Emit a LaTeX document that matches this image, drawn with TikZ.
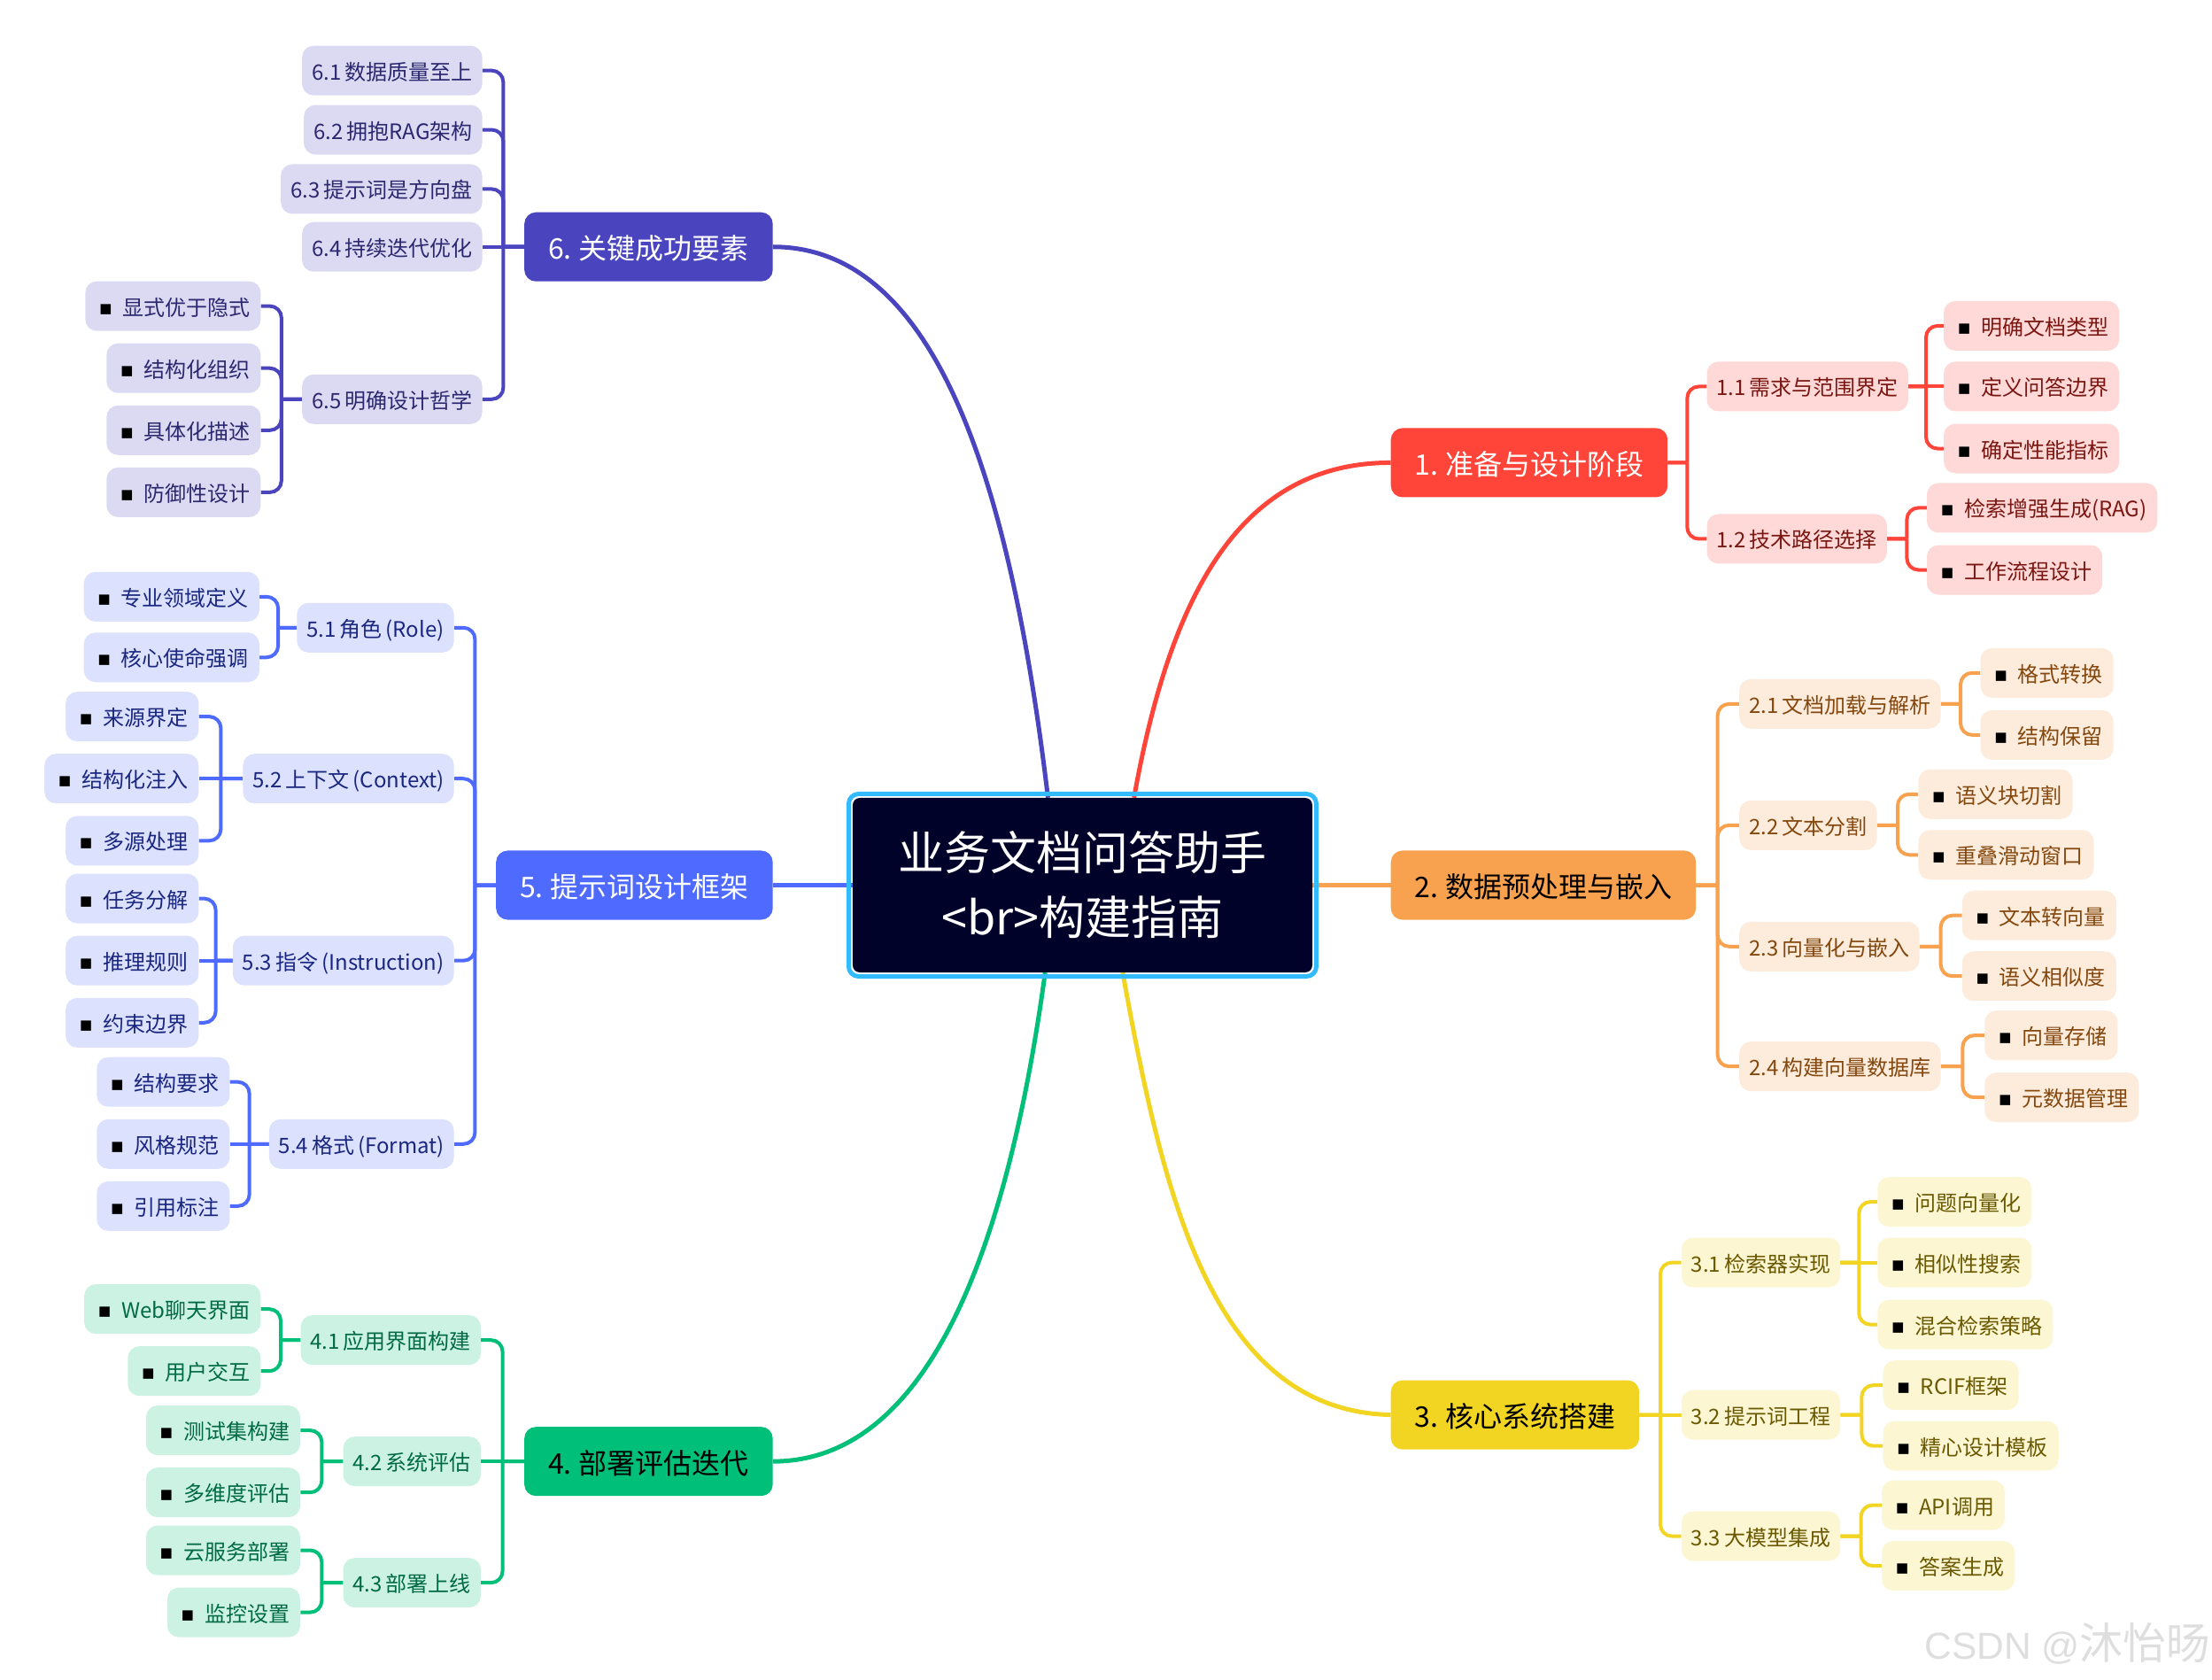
\documentclass[tikz,border=0pt]{standalone}
\usepackage{fontspec}
\usepackage{xcolor}
\setmainfont{Noto Sans CJK SC}
\newfontfamily\symfont{DejaVu Sans}
\newfontfamily\markfont{Liberation Sans}
\usetikzlibrary{calc,backgrounds}
\definecolor{rootfill}{HTML}{000229}
\definecolor{rootline}{HTML}{33BBFF}
\definecolor{redmain}{HTML}{FF4439}
\definecolor{redsoft}{HTML}{FFD9D7}
\definecolor{reddeep}{HTML}{7A1712}
\definecolor{ormain}{HTML}{F8A14E}
\definecolor{orsoft}{HTML}{FDECDC}
\definecolor{ordeep}{HTML}{84480F}
\definecolor{yemain}{HTML}{F2D422}
\definecolor{yesoft}{HTML}{FCF6D3}
\definecolor{yedeep}{HTML}{6B5900}
\definecolor{grmain}{HTML}{00BF78}
\definecolor{grsoft}{HTML}{CCF2E4}
\definecolor{grdeep}{HTML}{006B43}
\definecolor{blmain}{HTML}{4F6BFF}
\definecolor{blsoft}{HTML}{DCE1FD}
\definecolor{bldeep}{HTML}{1A2780}
\definecolor{inmain}{HTML}{4A45BF}
\definecolor{insoft}{HTML}{DBDAF2}
\definecolor{indeep}{HTML}{2C2870}
\newcommand{\tightsp}{\spaceskip=.17em\relax}
\newcommand{\bul}{\hspace{4pt}\raisebox{3pt}{\symfont\fontsize{15pt}{15pt}\selectfont\textcolor{black}{■}}\hspace{12pt}}
% parent to child, child on the right or on the left
\newcommand{\lnkr}[2]{\draw[link] (#1.east) -- ($(#1.east)!.5!(#1.east -| #2.west)$) coordinate (spine) (spine) |- (#2.west);}
\newcommand{\lnkl}[2]{\draw[link] (#1.west) -- ($(#1.west)!.5!(#1.west -| #2.east)$) coordinate (spine) (spine) |- (#2.east);}
% child level with its parent
\newcommand{\strr}[2]{\draw[link] (#1.east) -- (#1.east -| #2.west);}
\newcommand{\strl}[2]{\draw[link] (#1.west) -- (#1.west -| #2.east);}
\tikzset{
	lvlone/.style={rounded corners=13pt, minimum height=78pt, inner xsep=27pt, inner ysep=0pt, text height=28pt, text depth=0pt, font=\fontsize{32pt}{38pt}\selectfont\tightsp},
	lvltwo/.style={rounded corners=13pt, minimum height=56pt, inner xsep=11pt, inner ysep=0pt, text height=21pt, text depth=0pt, font=\fontsize{24pt}{28pt}\selectfont\tightsp},
	lvlthree/.style={lvltwo, inner xsep=12pt},
	rootlink/.style={line width=5pt},
	link/.style={line width=4pt, rounded corners=13pt}
}

\begin{document}
\begin{tikzpicture}[x=1.5928pt, y=-1.5928pt]
	\useasboundingbox (0, 0) rectangle (1568.3, 1190.4);

	\node[fill=rootfill, text=white, rounded corners=8pt, minimum width=519pt, minimum height=197pt, align=center, font=\fontsize{52pt}{73pt}\selectfont] (root) at (767.5, 627.5) {业务文档问答助手\\<br>构建指南};
	\node[draw=rootline, line width=5pt, rounded corners=11pt, minimum width=528pt, minimum height=206pt] (ring) at (767.5, 627.5) {};

	% 1
	\begin{scope}[every node/.style={fill=redsoft, text=reddeep}, link/.append style={draw=redmain}]
		\node[lvlone, anchor=west, fill=redmain, text=white] (a) at (986, 328) {1. 准备与设计阶段};
		\node[lvltwo, anchor=west] (a1) at (1210, 274) {1.1 需求与范围界定};
		\node[lvltwo, anchor=west] (a2) at (1210, 382) {1.2 技术路径选择};
		\node[lvlthree, anchor=west] (a11) at (1378, 231) {\bul 明确文档类型};
		\node[lvlthree, anchor=west] (a12) at (1378, 274) {\bul 定义问答边界};
		\node[lvlthree, anchor=west] (a13) at (1378, 318) {\bul 确定性能指标};
		\node[lvlthree, anchor=west] (a21) at (1366, 360) {\bul 检索增强生成(RAG)};
		\node[lvlthree, anchor=west] (a22) at (1366, 404) {\bul 工作流程设计};
		\begin{scope}[on background layer]
			\draw[rootlink, redmain] (a.west) .. controls (880, 328) and (830, 420) .. ($(root.north)+(36.5, 0)$);
			\foreach \c in {a1, a2} {\lnkr{a}{\c}}
			\foreach \c in {a11, a13} {\lnkr{a1}{\c}}
			\strr{a1}{a12}
			\foreach \c in {a21, a22} {\lnkr{a2}{\c}}
		\end{scope}
	\end{scope}

	% 2
	\begin{scope}[every node/.style={fill=orsoft, text=ordeep}, link/.append style={draw=ormain}]
		\node[lvlone, anchor=west, fill=ormain, text=black] (b) at (986, 627.5) {2. 数据预处理与嵌入};
		\node[lvltwo, anchor=west] (b1) at (1233, 499) {2.1 文档加载与解析};
		\node[lvltwo, anchor=west] (b2) at (1233, 585) {2.2 文本分割};
		\node[lvltwo, anchor=west] (b3) at (1233, 671) {2.3 向量化与嵌入};
		\node[lvltwo, anchor=west] (b4) at (1233, 756) {2.4 构建向量数据库};
		\node[lvlthree, anchor=west] (b11) at (1404, 477) {\bul 格式转换};
		\node[lvlthree, anchor=west] (b12) at (1404, 521) {\bul 结构保留};
		\node[lvlthree, anchor=west] (b21) at (1360, 563) {\bul 语义块切割};
		\node[lvlthree, anchor=west] (b22) at (1360, 606) {\bul 重叠滑动窗口};
		\node[lvlthree, anchor=west] (b31) at (1391, 649) {\bul 文本转向量};
		\node[lvlthree, anchor=west] (b32) at (1391, 692) {\bul 语义相似度};
		\node[lvlthree, anchor=west] (b41) at (1407, 734) {\bul 向量存储};
		\node[lvlthree, anchor=west] (b42) at (1407, 778) {\bul 元数据管理};
		\begin{scope}[on background layer]
			\draw[rootlink, ormain] (root.east) -- (b.west);
			\foreach \c in {b1, b2, b3, b4} {\lnkr{b}{\c}}
			\foreach \c in {b11, b12} {\lnkr{b1}{\c}}
			\foreach \c in {b21, b22} {\lnkr{b2}{\c}}
			\foreach \c in {b31, b32} {\lnkr{b3}{\c}}
			\foreach \c in {b41, b42} {\lnkr{b4}{\c}}
		\end{scope}
	\end{scope}

	% 3
	\begin{scope}[every node/.style={fill=yesoft, text=yedeep}, link/.append style={draw=yemain}]
		\node[lvlone, anchor=west, fill=yemain, text=black] (c) at (986, 1003) {3. 核心系统搭建};
		\node[lvltwo, anchor=west] (c1) at (1192, 895) {3.1 检索器实现};
		\node[lvltwo, anchor=west] (c2) at (1192, 1003) {3.2 提示词工程};
		\node[lvltwo, anchor=west] (c3) at (1192, 1089) {3.3 大模型集成};
		\node[lvlthree, anchor=west] (c11) at (1331, 852) {\bul 问题向量化};
		\node[lvlthree, anchor=west] (c12) at (1331, 895) {\bul 相似性搜索};
		\node[lvlthree, anchor=west] (c13) at (1331, 939) {\bul 混合检索策略};
		\node[lvlthree, anchor=west] (c21) at (1335, 982) {\bul RCIF框架};
		\node[lvlthree, anchor=west] (c22) at (1335, 1025) {\bul 精心设计模板};
		\node[lvlthree, anchor=west] (c31) at (1334, 1067) {\bul API调用};
		\node[lvlthree, anchor=west] (c32) at (1334, 1110) {\bul 答案生成};
		\begin{scope}[on background layer]
			\draw[rootlink, yemain] (c.west) .. controls (860, 1000) and (825, 850) .. ($(root.south)+(28.5, 0)$);
			\foreach \c in {c1, c3} {\lnkr{c}{\c}}
			\strr{c}{c2}
			\foreach \c in {c11, c13} {\lnkr{c1}{\c}}
			\strr{c1}{c12}
			\foreach \c in {c21, c22} {\lnkr{c2}{\c}}
			\foreach \c in {c31, c32} {\lnkr{c3}{\c}}
		\end{scope}
	\end{scope}

	% 4
	\begin{scope}[every node/.style={fill=grsoft, text=grdeep}, link/.append style={draw=grmain}]
		\node[lvlone, anchor=east, fill=grmain, text=black] (d) at (548, 1036) {4. 部署评估迭代};
		\node[lvltwo, anchor=east] (d1) at (341, 950) {4.1 应用界面构建};
		\node[lvltwo, anchor=east] (d2) at (341, 1036) {4.2 系统评估};
		\node[lvltwo, anchor=east] (d3) at (341, 1122) {4.3 部署上线};
		\node[lvlthree, anchor=east] (d11) at (185, 928) {\bul Web聊天界面};
		\node[lvlthree, anchor=east] (d12) at (185, 972) {\bul 用户交互};
		\node[lvlthree, anchor=east] (d21) at (213, 1014) {\bul 测试集构建};
		\node[lvlthree, anchor=east] (d22) at (213, 1058) {\bul 多维度评估};
		\node[lvlthree, anchor=east] (d31) at (213, 1099) {\bul 云服务部署};
		\node[lvlthree, anchor=east] (d32) at (213, 1143) {\bul 监控设置};
		\begin{scope}[on background layer]
			\draw[rootlink, grmain] (d.east) .. controls (660, 1036) and (715, 880) .. ($(root.south)+(-26.5, 0)$);
			\foreach \c in {d1, d3} {\lnkl{d}{\c}}
			\strl{d}{d2}
			\foreach \c in {d11, d12} {\lnkl{d1}{\c}}
			\foreach \c in {d21, d22} {\lnkl{d2}{\c}}
			\foreach \c in {d31, d32} {\lnkl{d3}{\c}}
		\end{scope}
	\end{scope}

	% 5
	\begin{scope}[every node/.style={fill=blsoft, text=bldeep}, link/.append style={draw=blmain}]
		\node[lvlone, anchor=east, fill=blmain, text=white] (e) at (548, 627.5) {5. 提示词设计框架};
		\node[lvltwo, anchor=east] (e1) at (322, 445) {5.1 角色 (Role)};
		\node[lvltwo, anchor=east] (e2) at (322, 552) {5.2 上下文 (Context)};
		\node[lvltwo, anchor=east] (e3) at (322, 681) {5.3 指令 (Instruction)};
		\node[lvltwo, anchor=east] (e4) at (322, 811) {5.4 格式 (Format)};
		\node[lvlthree, anchor=east] (e11) at (184, 423) {\bul 专业领域定义};
		\node[lvlthree, anchor=east] (e12) at (184, 466) {\bul 核心使命强调};
		\node[lvlthree, anchor=east] (e21) at (141, 508) {\bul 来源界定};
		\node[lvlthree, anchor=east] (e22) at (141, 552) {\bul 结构化注入};
		\node[lvlthree, anchor=east] (e23) at (141, 596) {\bul 多源处理};
		\node[lvlthree, anchor=east] (e31) at (141, 637) {\bul 任务分解};
		\node[lvlthree, anchor=east] (e32) at (141, 681) {\bul 推理规则};
		\node[lvlthree, anchor=east] (e33) at (141, 725) {\bul 约束边界};
		\node[lvlthree, anchor=east] (e41) at (163, 767) {\bul 结构要求};
		\node[lvlthree, anchor=east] (e42) at (163, 811) {\bul 风格规范};
		\node[lvlthree, anchor=east] (e43) at (163, 855) {\bul 引用标注};
		\begin{scope}[on background layer]
			\draw[rootlink, blmain] (root.west) -- (e.east);
			\foreach \c in {e1, e2, e3, e4} {\lnkl{e}{\c}}
			\foreach \c in {e11, e12} {\lnkl{e1}{\c}}
			\foreach \c in {e21, e23} {\lnkl{e2}{\c}}
			\strl{e2}{e22}
			\foreach \c in {e31, e33} {\lnkl{e3}{\c}}
			\strl{e3}{e32}
			\foreach \c in {e41, e43} {\lnkl{e4}{\c}}
			\strl{e4}{e42}
		\end{scope}
	\end{scope}

	% 6
	\begin{scope}[every node/.style={fill=insoft, text=indeep}, link/.append style={draw=inmain}]
		\node[lvlone, anchor=east, fill=inmain, text=white] (f) at (548, 175) {6. 关键成功要素};
		\node[lvltwo, anchor=east] (f1) at (342, 50) {6.1 数据质量至上};
		\node[lvltwo, anchor=east] (f2) at (342, 92) {6.2 拥抱RAG架构};
		\node[lvltwo, anchor=east] (f3) at (342, 134) {6.3 提示词是方向盘};
		\node[lvltwo, anchor=east] (f4) at (342, 175) {6.4 持续迭代优化};
		\node[lvltwo, anchor=east] (f5) at (342, 283) {6.5 明确设计哲学};
		\node[lvlthree, anchor=east] (f51) at (185, 217) {\bul 显式优于隐式};
		\node[lvlthree, anchor=east] (f52) at (185, 261) {\bul 结构化组织};
		\node[lvlthree, anchor=east] (f53) at (185, 305) {\bul 具体化描述};
		\node[lvlthree, anchor=east] (f54) at (185, 349) {\bul 防御性设计};
		\begin{scope}[on background layer]
			\draw[rootlink, inmain] (f.east) .. controls (660, 175) and (715, 330) .. ($(root.north)+(-24.5, 0)$);
			\foreach \c in {f1, f2, f3, f5} {\lnkl{f}{\c}}
			\strl{f}{f4}
			\foreach \c in {f51, f52, f53, f54} {\lnkl{f5}{\c}}
		\end{scope}
	\end{scope}

	\node[anchor=east, inner sep=0pt, text=black!13, font=\fontsize{49pt}{60pt}\selectfont] (mark) at (1567, 1165) {{\markfont\fontsize{42.5pt}{60pt}\selectfont CSDN @}沐怡旸};
\end{tikzpicture}
\end{document}
